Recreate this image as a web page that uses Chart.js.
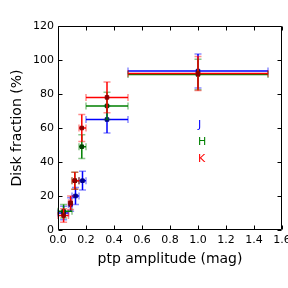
<!DOCTYPE html>
<html><head><meta charset="utf-8">
<script src="https://cdn.jsdelivr.net/npm/chart.js@4"></script>
<style>html,body{margin:0;padding:0;background:#fff}#w{width:288px;height:288px}</style>
</head><body><div id="w"><canvas id="c" width="288" height="288"></canvas></div>
<script>
// J band
const jX = [0.04, 0.09, 0.125, 0.175, 0.35, 1.0];
const jY = [10, 15, 20, 29, 65, 93.5];
const jXLo = [0.0, 0.075, 0.10, 0.15, 0.2, 0.5];
const jXHi = [0.075, 0.10, 0.15, 0.2, 0.5, 1.5];
const jYErr = [4, 4, 5, 5.5, 8, 10];
// H band
const hX = [0.04, 0.12, 0.17, 0.35, 1.0];
const hY = [11, 29, 49, 73, 91.5];
const hXLo = [0.0, 0.10, 0.15, 0.2, 0.5];
const hXHi = [0.10, 0.15, 0.2, 0.5, 1.5];
const hYErr = [4, 5, 7, 8, 9];
// K band
const kX = [0.04, 0.09, 0.12, 0.17, 0.35, 1.0];
const kY = [8.5, 16, 29, 60, 78, 92];
const kXLo = [0.0, 0.075, 0.10, 0.15, 0.2, 0.5];
const kXHi = [0.075, 0.10, 0.15, 0.2, 0.5, 1.5];
const kYErr = [4, 4, 5, 8, 9, 10];
// labels
const bandNames = ['J', 'H', 'K'];
const labelX = [1.0, 1.0, 1.0];
const labelY = [60, 50, 40];
const xTicks = [0, 0.2, 0.4, 0.6, 0.8, 1.0, 1.2, 1.4, 1.6];
const yTicks = [0, 20, 40, 60, 80, 100, 120];

const colors = ['#0000ff', '#008000', '#ff0000'];
const capColors = ['rgba(0,0,255,0.45)', 'rgba(0,128,0,0.45)', 'rgba(255,0,0,0.45)'];
const markerColors = ['#00008b', '#004000', '#8b0000'];

function mk(xs, ys, lo, hi, ye, i) {
  return {
    label: bandNames[i],
    data: xs.map((x, k) => ({x: x, y: ys[k], xlo: lo[k], xhi: hi[k], ye: ye[k]})),
    showLine: false,
    order: 3 - i,
    pointStyle: 'rect',
    pointRadius: 2.5,
    pointBackgroundColor: markerColors[i],
    pointBorderColor: markerColors[i],
    pointBorderWidth: 1,
    _ci: i
  };
}

const FONT = 'DejaVu Sans';

const errPlugin = {
  id: 'err',
  beforeDatasetDraw(chart, args) {
    const ds = chart.data.datasets[args.index];
    const xs = chart.scales.x, ys = chart.scales.y, ctx = chart.ctx;
    const c = colors[ds._ci], cc = capColors[ds._ci];
    ctx.save();
    ctx.lineWidth = 1.5;
    const cap = 3.5;
    ds.data.forEach(p => {
      const px = xs.getPixelForValue(p.x), py = ys.getPixelForValue(p.y);
      const x0 = xs.getPixelForValue(p.xlo), x1 = xs.getPixelForValue(p.xhi);
      const y0 = ys.getPixelForValue(p.y - p.ye), y1 = ys.getPixelForValue(p.y + p.ye);
      ctx.strokeStyle = c;
      ctx.beginPath();
      ctx.moveTo(x0, py); ctx.lineTo(x1, py);
      ctx.moveTo(px, y0); ctx.lineTo(px, y1);
      ctx.stroke();
      ctx.strokeStyle = cc;
      ctx.beginPath();
      ctx.moveTo(x0, py - cap); ctx.lineTo(x0, py + cap);
      ctx.moveTo(x1, py - cap); ctx.lineTo(x1, py + cap);
      ctx.moveTo(px - cap, y0); ctx.lineTo(px + cap, y0);
      ctx.moveTo(px - cap, y1); ctx.lineTo(px + cap, y1);
      ctx.stroke();
    });
    ctx.restore();
  }
};

const framePlugin = {
  id: 'frame',
  afterDraw(chart) {
    const {ctx, chartArea: a} = chart;
    const xs = chart.scales.x, ys = chart.scales.y;
    ctx.save();
    ctx.strokeStyle = '#000';
    ctx.lineWidth = 1;
    const L = Math.round(a.left) + 0.5, R = Math.round(a.right) - 0.5;
    const T = Math.round(a.top) + 0.5, B = Math.round(a.bottom) - 0.5;
    ctx.beginPath();
    ctx.rect(L, T, R - L, B - T);
    const tl = 4;
    xTicks.forEach(v => {
      const x = Math.round(xs.getPixelForValue(v)) + 0.5;
      ctx.moveTo(x, B); ctx.lineTo(x, B - tl);
      ctx.moveTo(x, T); ctx.lineTo(x, T + tl);
    });
    yTicks.forEach(v => {
      const y = Math.round(ys.getPixelForValue(v)) + 0.5;
      ctx.moveTo(L, y); ctx.lineTo(L + tl, y);
      ctx.moveTo(R, y); ctx.lineTo(R - tl, y);
    });
    ctx.stroke();
    // band labels
    ctx.font = '11px "' + FONT + '"';
    ctx.textAlign = 'left';
    ctx.textBaseline = 'alphabetic';
    bandNames.forEach((n, i) => {
      ctx.fillStyle = colors[i];
      ctx.fillText(n, xs.getPixelForValue(labelX[i]), ys.getPixelForValue(labelY[i]));
    });
    ctx.restore();
  }
};

new Chart(document.getElementById('c'), {
  type: 'scatter',
  data: {
    datasets: [
      mk(jX, jY, jXLo, jXHi, jYErr, 0),
      mk(hX, hY, hXLo, hXHi, hYErr, 1),
      mk(kX, kY, kXLo, kXHi, kYErr, 2)
    ]
  },
  options: {
    responsive: false,
    animation: false,
    devicePixelRatio: 1,
    layout: {padding: {top: 26, right: 6, left: 0, bottom: 0}},
    plugins: {legend: {display: false}, tooltip: {enabled: false}},
    scales: {
      x: {
        type: 'linear', min: 0, max: 1.6,
        afterBuildTicks(s) { s.ticks = xTicks.map(v => ({value: v})); },
        afterFit(s) { s.height = 58; s.paddingLeft = 0; s.paddingRight = 0; },
        grid: {display: false, drawTicks: false},
        border: {display: false},
        ticks: {color: '#000', padding: 4, maxRotation: 0, autoSkip: false,
          font: {family: FONT, size: 11},
          callback: v => Number(v).toFixed(1)},
        title: {display: true, text: 'ptp amplitude (mag)', color: '#000',
          font: {family: FONT, size: 14}, padding: {top: 0, bottom: 20}}
      },
      y: {
        type: 'linear', min: 0, max: 120,
        afterBuildTicks(s) { s.ticks = yTicks.map(v => ({value: v})); },
        afterFit(s) { s.width = 58; s.paddingTop = 0; s.paddingBottom = 0; },
        grid: {display: false, drawTicks: false},
        border: {display: false},
        ticks: {color: '#000', padding: 4, autoSkip: false,
          font: {family: FONT, size: 11},
          callback: v => String(v)},
        title: {display: true, text: 'Disk fraction (%)', color: '#000',
          font: {family: FONT, size: 14}, padding: {top: 9, bottom: 0}}
      }
    }
  },
  plugins: [errPlugin, framePlugin]
});
</script></body></html>
